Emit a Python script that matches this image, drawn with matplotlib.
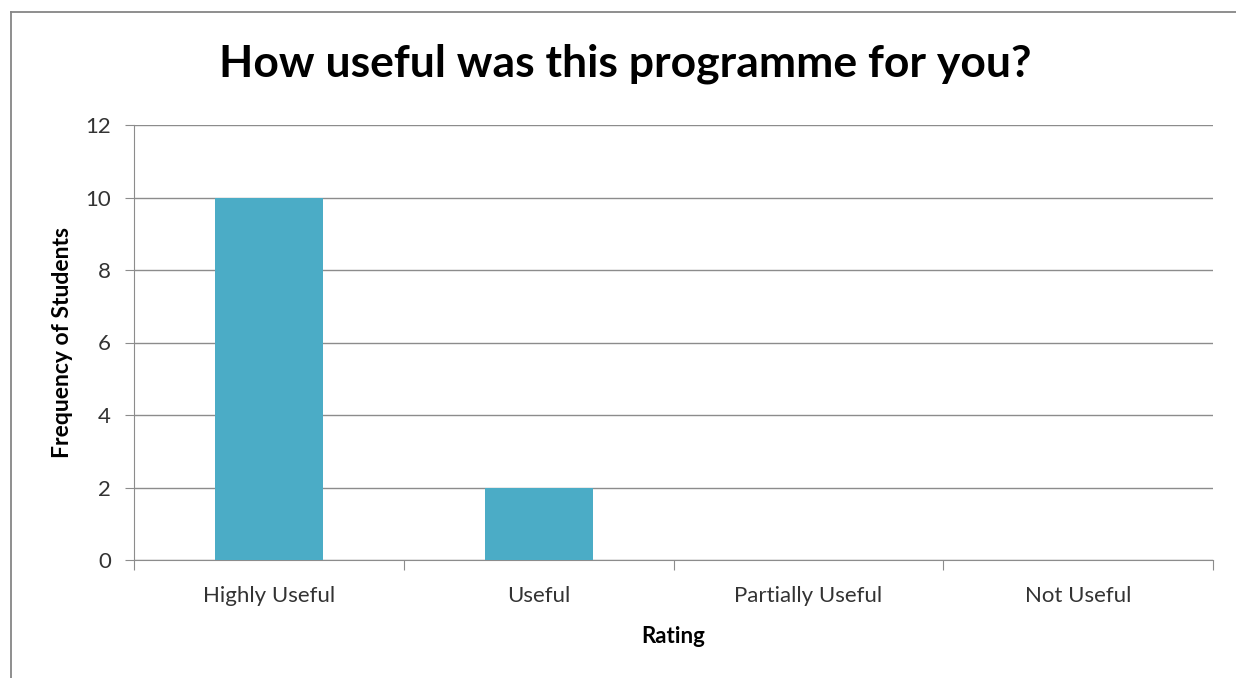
import matplotlib
matplotlib.use('Agg')
import matplotlib.pyplot as plt
from matplotlib.lines import Line2D

# data
ratings = ['Highly Useful', 'Useful', 'Partially Useful', 'Not Useful']
students = [10, 2, 0, 0]
yticks = [0, 2, 4, 6, 8, 10, 12]

plt.rcParams['font.family'] = ['Lato', 'DejaVu Sans']

fig = plt.figure(figsize=(12.36, 6.78), dpi=100)
ax = fig.add_axes([134/1236, 118/678, 1079/1236, 435/678])

# outer chart border, only left and top show in the image
bx = 10.5/1236
by = 1 - 12/678
fig.lines.append(Line2D([bx, bx], [0, by], transform=fig.transFigure,
                        color='#868686', linewidth=1.3))
fig.lines.append(Line2D([bx, 1], [by, by], transform=fig.transFigure,
                        color='#868686', linewidth=1.3))

x = range(len(ratings))
ax.bar(x, students, width=0.4, color='#4BACC6', zorder=3)

ax.set_xlim(-0.5, len(ratings) - 0.5)
ax.set_ylim(0, 12)
ax.set_yticks(yticks)
ax.yaxis.grid(True, color='#8c8c8c', linewidth=1)
ax.set_axisbelow(True)

ax.set_xticks([i - 0.5 for i in range(len(ratings) + 1)])
ax.set_xticklabels([])
ax.set_xticks(list(x), minor=True)
ax.set_xticklabels(ratings, minor=True, fontsize=16, color='#333333')
ax.tick_params(axis='x', which='major', length=7, color='#8c8c8c', direction='out')
ax.tick_params(axis='x', which='minor', length=0, pad=19)
ax.tick_params(axis='y', length=6.5, color='#8c8c8c', labelsize=16,
               labelcolor='#333333', pad=10)

for s in ['top', 'right']:
    ax.spines[s].set_visible(False)
ax.spines['left'].set_color('#8c8c8c')
ax.spines['bottom'].set_color('#8c8c8c')

ax.set_xlabel('Rating', fontsize=16, fontweight='bold', labelpad=14)
ax.set_ylabel('Frequency of Students', fontsize=16.5, fontweight='bold', labelpad=9)
fig.text(625/1236, 1 - 64/678, 'How useful was this programme for you?',
         ha='center', va='center', fontsize=32, fontweight='bold')

fig.savefig('out.png', dpi=100)
